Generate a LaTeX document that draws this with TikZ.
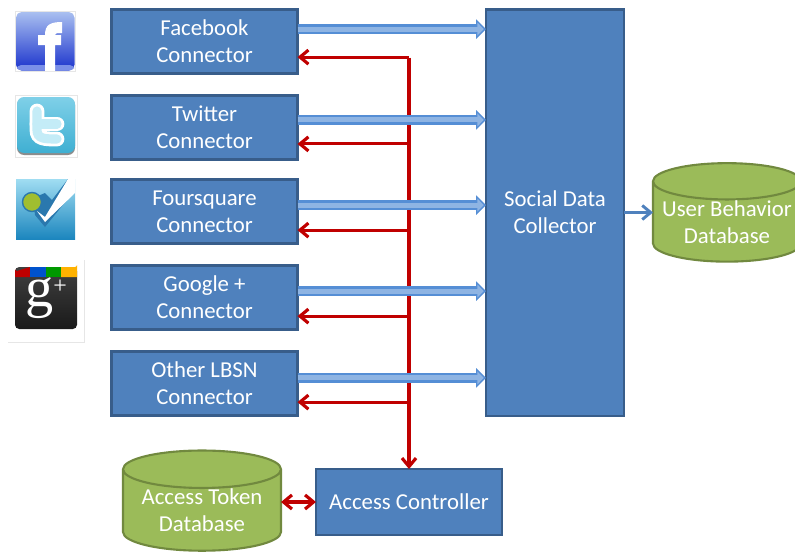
\documentclass[tikz,border=0pt]{standalone}
\usepackage{fontspec}
\setmainfont{Carlito}
\newfontfamily\logofont{Liberation Serif}
\usetikzlibrary{arrows.meta,shapes.geometric}
\definecolor{boxfill}{HTML}{4F81BD}
\definecolor{boxline}{HTML}{385D8A}
\definecolor{dbfill}{HTML}{9BBB59}
\definecolor{dbline}{HTML}{71893F}
\definecolor{tokenred}{HTML}{C00000}
\definecolor{feedout}{HTML}{558ED5}
\definecolor{feedin}{HTML}{8EB4E3}
\definecolor{framegray}{HTML}{E6E6E6}
\definecolor{fbtop}{HTML}{A9BFF0}
\definecolor{fbmid}{HTML}{3355E0}
\definecolor{fbbot}{HTML}{1A32CC}
\definecolor{fbstrip}{HTML}{7A8FE8}
\definecolor{twtop}{HTML}{7FD0E8}
\definecolor{twbot}{HTML}{3FAFD2}
\definecolor{twink}{HTML}{C4ECF7}
\definecolor{fstop}{HTML}{A0DDF2}
\definecolor{fsbot}{HTML}{1C86BE}
\definecolor{fsdark}{HTML}{2A78AE}
\definecolor{fsball}{HTML}{A0BE30}
\tikzset{
  box/.style={rectangle,draw=boxline,fill=boxfill,line width=1.5pt,text=white,align=center,
    font=\fontsize{16.2}{19.2}\selectfont,outer sep=0pt},
  conn/.style={box,minimum width=4.65cm,minimum height=1.6cm},
  db/.style={cylinder,shape border rotate=90,aspect=.31,draw=dbline,fill=dbfill,line width=1.5pt,
    text=white,align=center,font=\fontsize{16.2}{19.2}\selectfont,outer sep=0pt,inner sep=0pt},
  tokenline/.style={draw=tokenred,line width=2.25pt,line join=round},
  tokenarrow/.style={tokenline,-{Straight Barb[length=6pt,width=10pt]}},
  feed/.style={draw=feedin,line width=3.6pt,shorten >=1.6pt,-{Triangle[length=4.5pt,width=9pt]},
    preaction={draw=feedout,line width=7pt,shorten >=0pt,-{Triangle[length=7pt,width=13.5pt]}}}
}
\begin{document}
\begin{tikzpicture}[x=0.025cm,y=-0.025cm]
  \useasboundingbox (0,0) rectangle (795,552);

  % Connectors on the left
  \node[conn] (fb) at (204.5,41.5) {Facebook\\Connector};
  \node[conn] (tw) at (204.5,127.5) {Twitter\\Connector};
  \node[conn] (fs) at (204.5,211.5) {Foursquare\\Connector};
  \node[conn] (gp) at (204.5,297.5) {Google +\\Connector};
  \node[conn] (ot) at (204.5,383.5) {Other LBSN\\Connector};

  % Collector and controller
  \node[box,minimum width=3.45cm,minimum height=10.15cm] (sdc) at (555,212.5) {Social Data\\Collector};
  \node[box,minimum width=4.65cm,minimum height=1.65cm] (ac) at (409,502) {Access Controller};

  % Databases
  \node[db,minimum width=3.95cm,minimum height=2.33cm] (atd) at (202,510.5) {Access Token\\Database};
  \node[db,aspect=.28,minimum width=3.7cm,minimum height=2.2cm] (ubd) at (727,222) {User Behavior\\Database};

  % Red token lines, trunk first
  \coordinate (trunktop) at ([yshift=-.4cm]fb.east -| ac.north);
  \draw[tokenarrow] (trunktop) -- (ac.north);
  \foreach \name/\down in {fb/.39,tw/.41,fs/.465,gp/.465,ot/.465}
    \draw[tokenarrow] ([yshift=-\down cm]\name.east -| ac.north) -- ([yshift=-\down cm]\name.east);
  \draw[tokenline,{Straight Barb[length=6pt,width=10pt]}-{Straight Barb[length=6pt,width=10pt]}] (atd.east |- ac.west) -- (ac.west);

  % Blue feeds into the collector
  \foreach \name/\up in {fb/.31,tw/.19,fs/.16,gp/.16,ot/.14}
    \draw[feed] ([yshift=\up cm]\name.east) -- ([yshift=\up cm]\name.east -| sdc.west);
  \draw[draw=boxfill,line width=2.1pt,-{Straight Barb[length=6pt,width=10pt]}] (sdc.east) -- (sdc.east -| ubd.west);

  % Facebook icon
  \draw[framegray,fill=white,line width=.5pt] (15,11) rectangle (75,71);
  \shade[rounded corners=4pt,top color=fbtop,middle color=fbmid,bottom color=fbbot] (16,12) rectangle (74.5,70.5);
  \fill[fbstrip,rounded corners=3pt] (17,65) rectangle (74,70.5);
  \fill[white] (45,71) -- (45,45) -- (38,45) -- (38,35) -- (45,35) .. controls (45,25) and (50,22) .. (62,22)
    -- (62,33) .. controls (57,33) and (55,33) .. (55,35) -- (61,35) -- (61,45) -- (55,45) -- (55,71) -- cycle;

  % Twitter icon
  \draw[framegray,fill=white,line width=.5pt] (15,95) rectangle (77,157);
  \fill[black!45,rounded corners=5pt] (17,98) rectangle (75,155);
  \shade[rounded corners=5pt,top color=twtop,bottom color=twbot] (17,97) rectangle (75,153);
  \draw[white,line width=10.5pt,line cap=round] (37,111) -- (37,130) .. controls (37,139) and (45,139) .. (57,139);
  \draw[white,line width=10.5pt,line cap=round] (37,124) -- (57,124);
  \draw[twink,line width=6.5pt,line cap=round] (37,111) -- (37,130) .. controls (37,139) and (45,139) .. (57,139);
  \draw[twink,line width=6.5pt,line cap=round] (37,124) -- (57,124);

  % Foursquare icon
  \shade[top color=fstop,bottom color=fsbot] (16,179) rectangle (75,239);
  \fill[fsdark] (33,198) -- (45,193) -- (52,200) -- (68,179) -- (70,179) -- (75,190) -- (45,227) -- (35,215) -- cycle;
  \fill[white] (37,211) -- (45,217) -- (68,179) -- (75,179) -- (75,193) -- (45,222) -- cycle;
  \filldraw[draw=fsdark,fill=fsball,line width=1pt] (32,202) circle (9.5);

  % Google plus icon
  \draw[framegray,line width=.5pt] (8,342) -- (84,342) -- (84,260);
  \shade[rounded corners=3pt,top color=black!75,bottom color=black!90] (15,267) rectangle (77,329);
  \fill[red!75!black] (15,277) -- (15,269) arc (180:90:2) -- (30,267) -- (30,277) -- cycle;
  \fill[blue!60!cyan!80!black] (30,267) rectangle (46,277);
  \fill[green!60!black] (46,267) rectangle (61,277);
  \fill[orange!60!yellow] (61,267) -- (75,267) arc (90:0:2) -- (77,277) -- (61,277) -- cycle;
  \node[text=white,font=\logofont\fontsize{40}{40}\selectfont] (gplus) at (46,298)
    {g\raisebox{9pt}{\fontsize{17}{17}\selectfont +}};
\end{tikzpicture}
\end{document}
